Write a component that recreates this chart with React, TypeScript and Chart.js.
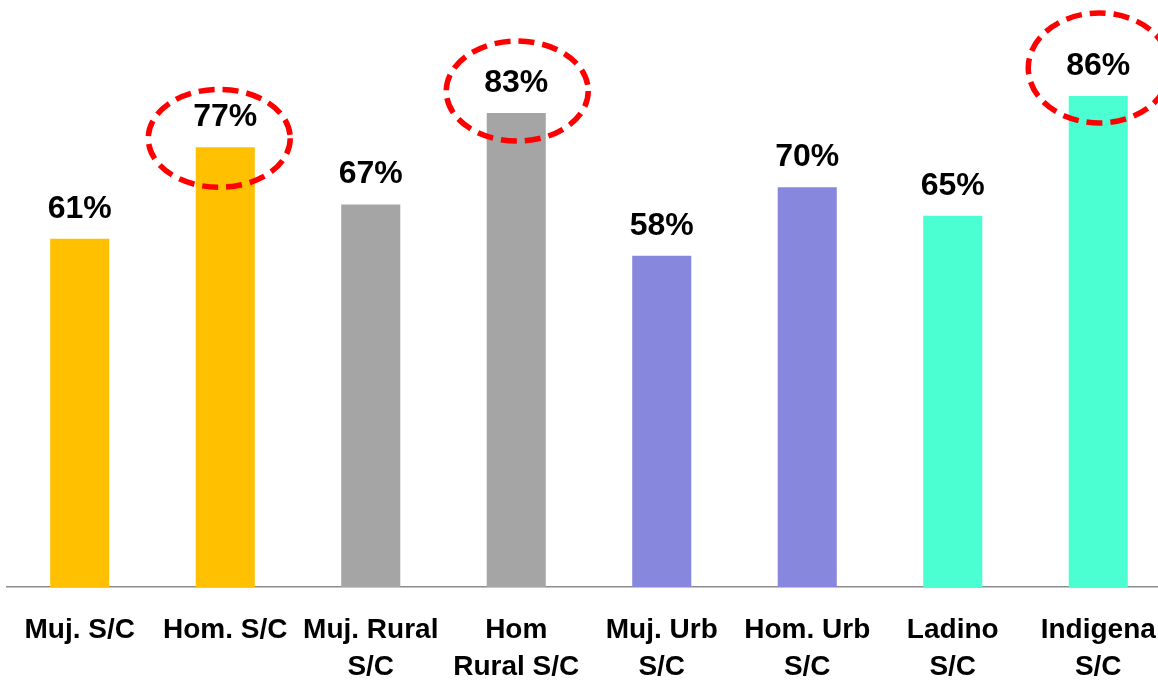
import React, { useEffect, useRef } from 'react';
import { Chart, registerables } from 'chart.js';

Chart.register(...registerables);

// ---- Data ----
const categories: (string | string[])[] = [
  'Muj. S/C',
  'Hom. S/C',
  ['Muj. Rural', 'S/C'],
  ['Hom', 'Rural S/C'],
  ['Muj. Urb', 'S/C'],
  ['Hom. Urb', 'S/C'],
  ['Ladino', 'S/C'],
  ['Indigena', 'S/C'],
];
const values = [61, 77, 67, 83, 58, 70, 65, 86];
const highlightedIndexes = [1, 3, 7];

// ---- Styles ----
const barColors = [
  '#FFC000', '#FFC000',
  '#A5A5A5', '#A5A5A5',
  '#8787DE', '#8787DE',
  '#4BFFD2', '#4BFFD2',
];
// ellipse annotation geometry, relative to the bar top centre of each highlighted bar
const ellipseShapes = [
  { dx: -6, dy: -9, rx: 71, ry: 49 },
  { dx: 1, dy: -22, rx: 71, ry: 50 },
  { dx: 1, dy: -28, rx: 71, ry: 55 },
];
const FONT = '"Liberation Sans", Arial, sans-serif';

const overlayPlugin = {
  id: 'overlay',
  afterDatasetsDraw(chart: any) {
    const ctx = chart.ctx as CanvasRenderingContext2D;
    const meta = chart.getDatasetMeta(0);
    ctx.save();
    ctx.font = `bold 32px ${FONT}`;
    ctx.fillStyle = '#000';
    ctx.textAlign = 'center';
    ctx.textBaseline = 'alphabetic';
    meta.data.forEach((bar: any, i: number) => {
      ctx.fillText(values[i] + '%', bar.x, bar.y - 21);
    });
    ctx.strokeStyle = '#FF0000';
    ctx.lineWidth = 5.5;
    ctx.setLineDash([16, 8]);
    highlightedIndexes.forEach((idx, k) => {
      const bar = meta.data[idx];
      const e = ellipseShapes[k];
      ctx.beginPath();
      ctx.ellipse(bar.x + e.dx, bar.y + e.dy, e.rx, e.ry, 0, 0, Math.PI * 2);
      ctx.stroke();
    });
    ctx.restore();
  },
};

export default function App() {
  const ref = useRef<HTMLCanvasElement>(null);
  useEffect(() => {
    if (!ref.current) return;
    const chart = new Chart(ref.current, {
      type: 'bar',
      data: {
        labels: categories,
        datasets: [
          {
            data: values,
            backgroundColor: barColors,
            borderWidth: 0,
            barPercentage: 0.406,
            categoryPercentage: 1,
          },
        ],
      },
      options: {
        animation: false,
        responsive: false,
        devicePixelRatio: 1,
        layout: { padding: { top: 16, left: 7, right: 0, bottom: 0 } },
        plugins: {
          legend: { display: false },
          tooltip: { enabled: false },
        },
        scales: {
          x: {
            grid: { display: false, drawTicks: false },
            border: { display: true, color: '#8C8C8C', width: 1.5 },
            ticks: {
              color: '#000',
              padding: 25,
              maxRotation: 0,
              autoSkip: false,
              font: { family: FONT, size: 28, weight: 'bold', lineHeight: 37 / 28 },
            },
            afterFit: (scale: any) => {
              scale.height = 96;
              scale.paddingLeft = 0;
              scale.paddingRight = 0;
            },
          },
          y: {
            display: false,
            min: 0,
            max: 100,
          },
        },
      },
      plugins: [overlayPlugin],
    } as any);
    return () => chart.destroy();
  }, []);

  return (
    <div
      style={{
        position: 'fixed',
        left: 0,
        top: 0,
        width: 1158,
        height: 683,
        overflow: 'hidden',
        background: '#fff',
      }}
    >
      <canvas ref={ref} width={1171} height={683} style={{ display: 'block', width: 1171, height: 683 }} />
    </div>
  );
}
